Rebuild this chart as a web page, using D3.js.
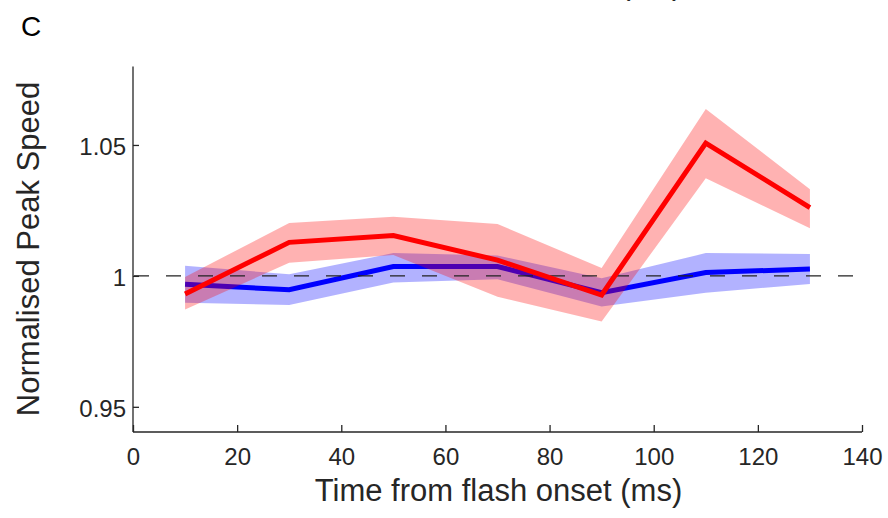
<!DOCTYPE html>
<html>
<head>
<meta charset="utf-8">
<script src="https://cdn.jsdelivr.net/npm/d3@7"></script>
<style>
  html, body { margin: 0; padding: 0; background: #fff; }
  svg { display: block; font-family: "Liberation Sans", Arial, Helvetica, sans-serif; }
</style>
</head>
<body>
<svg id="chart" width="888" height="518"></svg>
<script>
// ---- data ----
const times = [10, 30, 50, 70, 90, 110, 130];
const redMean  = [0.9931, 1.0128, 1.0154, 1.0060, 0.9927, 1.0507, 1.0261];
const redUpper = [0.9996, 1.0202, 1.0226, 1.0198, 1.0030, 1.0637, 1.0331];
const redLower = [0.9872, 1.0050, 1.0080, 0.9920, 0.9826, 1.0373, 1.0182];
const blueMean  = [0.9968, 0.9947, 1.0036, 1.0036, 0.9936, 1.0013, 1.0026];
const blueUpper = [1.0039, 1.0006, 1.0087, 1.0078, 0.9991, 1.0087, 1.0084];
const blueLower = [0.9897, 0.9889, 0.9975, 0.9987, 0.9883, 0.9936, 0.9969];
const xTicks = [0, 20, 40, 60, 80, 100, 120, 140];
const yTicks = [0.95, 1, 1.05];
const xLabel = "Time from flash onset (ms)";
const yLabel = "Normalised Peak Speed";
const panelLabel = "C";
const refValue = 1;

// ---- layout ----
const svg = d3.select("#chart");
const mLeft = 133, mRight = 862, mTop = 66.4, mBottom = 433;
const x = d3.scaleLinear().domain([0, 140]).range([mLeft, mRight]);
const y = d3.scaleLinear().domain([0.94, 1.08]).range([mBottom, mTop]);
const axisColor = "#262626";

const band = (lo, hi) => d3.area()
  .x((d, i) => x(times[i]))
  .y0((d, i) => y(lo[i]))
  .y1((d, i) => y(hi[i]));
const line = (vals) => d3.line().x((d, i) => x(times[i])).y((d, i) => y(vals[i]));

// blue band + line
svg.append("path").datum(times).attr("d", band(blueLower, blueUpper))
  .attr("fill", "#0000ff").attr("fill-opacity", 0.3).attr("stroke", "none");
svg.append("path").datum(times).attr("d", line(blueMean))
  .attr("fill", "none").attr("stroke", "#0000ff").attr("stroke-width", 5);
// red band
svg.append("path").datum(times).attr("d", band(redLower, redUpper))
  .attr("fill", "#ff0000").attr("fill-opacity", 0.3).attr("stroke", "none");

// reference dashed line
svg.append("line")
  .attr("x1", x(0)).attr("x2", x(140))
  .attr("y1", y(refValue)).attr("y2", y(refValue))
  .attr("stroke", "#222").attr("stroke-width", 1.4)
  .attr("stroke-dasharray", "15,17").attr("stroke-dashoffset", -1);

// red line
svg.append("path").datum(times).attr("d", line(redMean))
  .attr("fill", "none").attr("stroke", "#ff0000").attr("stroke-width", 5);

// axes
const xAxis = d3.axisBottom(x).tickValues(xTicks).tickSize(-7).tickPadding(16)
  .tickFormat(d3.format("d"));
const gx = svg.append("g").attr("transform", `translate(0,${mBottom - 1})`).call(xAxis);
const yAxis = d3.axisLeft(y).tickValues(yTicks).tickSize(-6).tickPadding(7)
  .tickFormat(d => d === 1 ? "1" : d3.format(".2f")(d));
const gy = svg.append("g").attr("transform", `translate(${mLeft},0)`).call(yAxis);

[gx, gy].forEach(g => {
  g.select(".domain").attr("stroke", axisColor).attr("stroke-width", 1.3);
  g.selectAll(".tick line").attr("stroke", axisColor).attr("stroke-width", 1.3);
  g.selectAll(".tick text").attr("fill", axisColor)
    .style("font-size", "24px").style("font-family", "'Liberation Sans', Arial, sans-serif");
});
gy.selectAll(".tick text").attr("dy", "0.4em");
gx.select(".domain").attr("d", `M${mLeft},0H${mRight}`);
gy.select(".domain").attr("d", `M0,${mTop}V${mBottom - 1}`);

// labels
svg.append("text").attr("x", (mLeft + mRight) / 2 + 1).attr("y", 501)
  .attr("text-anchor", "middle").attr("fill", axisColor)
  .style("font-size", "31px").text(xLabel);
svg.append("text").attr("transform", `translate(38.5,249) rotate(-90)`)
  .attr("text-anchor", "middle").attr("fill", axisColor)
  .style("font-size", "31px").text(yLabel);
svg.append("text").attr("x", 21).attr("y", 36)
  .attr("fill", "#000").style("font-size", "28px").text(panelLabel);
// label of the panel above, cut off at the top edge
svg.append("text").attr("x", (mLeft + mRight) / 2 + 1).attr("y", -6)
  .attr("text-anchor", "middle").attr("fill", axisColor)
  .style("font-size", "31px").text(xLabel);
</script>
</body>
</html>
